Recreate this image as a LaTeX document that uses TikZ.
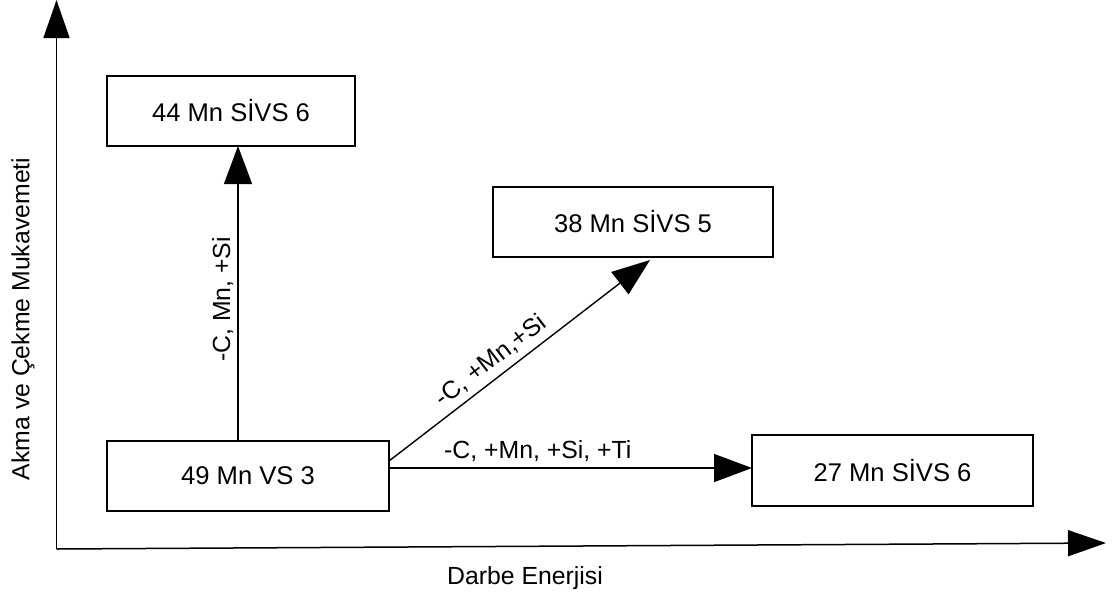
\documentclass[tikz,border=0pt]{standalone}
\usepackage{fontspec}
\setmainfont{Liberation Sans}
\usetikzlibrary{arrows.meta,calc}
\tikzset{
  box/.style={draw, line width=0.75pt, rectangle, inner sep=0pt, outer sep=0pt, font=\fontsize{12.8}{15}\selectfont},
  conn/.style={line width=0.7pt, -{Triangle[length=19pt,width=14pt]}},
  axis/.style={line width=0.75pt, -{Triangle[length=19pt,width=13pt]}},
  lbl/.style={font=\fontsize{12.4}{15}\selectfont, inner sep=1pt},
}
\begin{document}
\begin{tikzpicture}[x=0.5pt,y=-0.5pt]
\useasboundingbox (0,0) rectangle (1115,596);
% boxes
\node[box, minimum width=124pt, minimum height=35pt] (b44) at (231,111) {44 Mn SİVS 6};
\node[box, minimum width=141pt, minimum height=35pt] (b49) at (248,476) {49 Mn VS 3};
\node[box, minimum width=140pt, minimum height=35pt] (b38) at (633,222) {38 Mn SİVS 5};
\node[box, minimum width=140.5pt, minimum height=35.5pt] (b27) at (892.5,470.5) {27 Mn SİVS 6};
% axes
\coordinate (O) at (56.5,549);
\coordinate (ytip) at (56.5,0);
\coordinate (xtip) at (1106,543);
\draw[axis] (O) -- (ytip);
\draw[axis] (O) -- (xtip);
\node[lbl, rotate=90] (ylab) at (23,319) {Akma ve Çekme Mukavemeti};
\node[lbl] (xlab) at (525,578) {Darbe Enerjisi};
% helper coordinates
\coordinate (vx) at (238,0);
\coordinate (ds) at (0,461);
\coordinate (de) at (650,0);
\coordinate (hy) at (0,468);
% connectors
\draw[conn] (b49.north -| vx) -- node[lbl, rotate=90, above=1pt, pos=0.48] (l1) {-C, Mn, +Si} (b44.south -| vx);
\draw[conn] (b49.east |- ds) -- node[lbl, sloped, above=2pt, pos=0.43] (l2) {-C, +Mn,+Si} ($(b38.south -| de)+(0,3)$);
\draw[conn] (b49.east |- hy) -- node[lbl, above=2pt, pos=0.41] (l3) {-C, +Mn, +Si, +Ti} (b27.west |- hy);
\end{tikzpicture}
\end{document}
